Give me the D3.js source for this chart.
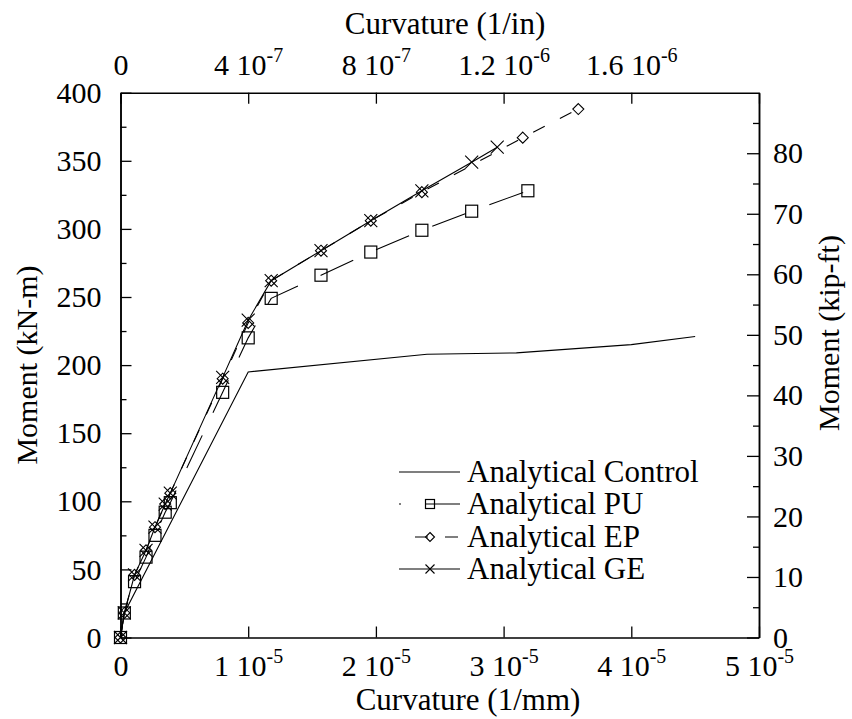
<!DOCTYPE html>
<html>
<head>
  <meta charset="utf-8">
  <title>Moment-Curvature</title>
  <script src="https://d3js.org/d3.v7.min.js"></script>
  <style>
    body { margin: 0; background: #fff; }
    text { font-family: "Liberation Serif", "Times New Roman", serif; fill: #000; }
  </style>
</head>
<body>
<div id="chart"></div>
<script>
  // curvature in 1/mm, moment in kN-m
  const controlK = [0, 0.03e-5, 1.0e-5, 2.4e-5, 3.1e-5, 4.0e-5, 4.5e-5];
  const controlM = [0, 18, 195, 208, 209, 215, 221];

  const puK = [0, 0.03e-5, 0.11e-5, 0.2e-5, 0.27e-5, 0.35e-5, 0.39e-5, 0.8e-5, 1.0e-5, 1.18e-5, 1.57e-5, 1.96e-5, 2.36e-5, 2.75e-5, 3.19e-5];
  const puM = [0, 18, 41, 59, 75, 92, 99, 180, 220, 249, 266, 283, 299, 313, 328];

  const epK = [0, 0.03e-5, 0.11e-5, 0.2e-5, 0.27e-5, 0.35e-5, 0.39e-5, 0.8e-5, 1.0e-5, 1.18e-5, 1.57e-5, 1.96e-5, 2.36e-5, 3.15e-5, 3.585e-5];
  const epM = [0, 18, 46, 64, 81, 98, 106, 190, 231, 262, 284, 306, 327, 367, 388];

  const geK = [0, 0.03e-5, 0.11e-5, 0.2e-5, 0.27e-5, 0.35e-5, 0.39e-5, 0.8e-5, 1.0e-5, 1.18e-5, 1.57e-5, 1.96e-5, 2.36e-5, 2.75e-5, 2.95e-5];
  const geM = [0, 18, 46, 64, 81, 98, 106, 191, 233, 262, 284, 306, 328, 349, 360];

  const seriesNames = ["Analytical Control", "Analytical PU", "Analytical EP", "Analytical GE"];

  // tick values and labels  [mantissa, exponent]
  const bottomTicks = [0, 1e-5, 2e-5, 3e-5, 4e-5, 5e-5];
  const bottomLabels = [["0", ""], ["1 10", "-5"], ["2 10", "-5"], ["3 10", "-5"], ["4 10", "-5"], ["5 10", "-5"]];
  const topTicks = [0, 4e-7, 8e-7, 1.2e-6, 1.6e-6, 2e-6];
  const topLabels = [["0", ""], ["4 10", "-7"], ["8 10", "-7"], ["1.2 10", "-6"], ["1.6 10", "-6"], ["", ""]];
  const leftTicks = [0, 50, 100, 150, 200, 250, 300, 350, 400];
  const leftMinor = [25, 75, 125, 175, 225, 275, 325, 375];
  const rightTicks = [0, 10, 20, 30, 40, 50, 60, 70, 80];
  const rightMinor = [5, 15, 25, 35, 45, 55, 65, 75, 85];

  const width = 852, height = 719;
  const box = { left: 120.5, right: 759, top: 92.7, bottom: 637.5 };

  const svg = d3.select("#chart").append("svg")
    .attr("width", width).attr("height", height);

  const x = d3.scaleLinear().domain([0, 5e-5]).range([box.left, box.right]);
  const xTop = d3.scaleLinear().domain([0, 2e-6]).range([box.left, box.right]);
  const y = d3.scaleLinear().domain([0, 400]).range([box.bottom, box.top]);
  const yRight = d3.scaleLinear().domain([0, 90]).range([box.bottom, box.top]);

  const fs = 30;

  function supLabels(sel, labels) {
    sel.selectAll(".tick text").each(function(d, i) {
      const t = d3.select(this).text(null);
      const lab = labels[i];
      t.append("tspan").text(lab[0]);
      if (lab[1]) t.append("tspan").attr("dy", -13).attr("font-size", 20).text(lab[1]);
    });
  }

  // bottom axis
  const gb = svg.append("g").attr("transform", `translate(0,${box.bottom})`)
    .call(d3.axisBottom(x).tickValues(bottomTicks).tickSizeInner(-11).tickSizeOuter(0).tickPadding(17));
  supLabels(gb, bottomLabels);

  // top axis
  const gt = svg.append("g").attr("transform", `translate(0,${box.top})`)
    .call(d3.axisTop(xTop).tickValues(topTicks).tickSizeInner(-11).tickSizeOuter(0).tickPadding(18));
  supLabels(gt, topLabels);

  // left axis
  svg.append("g").attr("transform", `translate(${box.left},0)`)
    .call(d3.axisLeft(y).tickValues(leftTicks).tickFormat(d3.format("d")).tickSizeInner(-11).tickSizeOuter(0).tickPadding(19));
  svg.append("g").attr("transform", `translate(${box.left},0)`)
    .call(d3.axisLeft(y).tickValues(leftMinor).tickFormat("").tickSizeInner(-6).tickSizeOuter(0));

  // right axis
  svg.append("g").attr("transform", `translate(${box.right},0)`)
    .call(d3.axisRight(yRight).tickValues(rightTicks).tickFormat(d3.format("d")).tickSizeInner(-12).tickSizeOuter(0).tickPadding(14));
  svg.append("g").attr("transform", `translate(${box.right},0)`)
    .call(d3.axisRight(yRight).tickValues(rightMinor).tickFormat("").tickSizeInner(-6).tickSizeOuter(0));

  svg.selectAll(".domain").attr("stroke", "#000").attr("stroke-width", 1.5);
  svg.selectAll(".tick line").attr("stroke", "#000").attr("stroke-width", 1.3);
  svg.selectAll(".tick text").attr("font-size", fs).attr("fill", "#000");

  // axis titles
  svg.append("text").attr("x", 445).attr("y", 34).attr("text-anchor", "middle").attr("font-size", 31).text("Curvature (1/in)");
  svg.append("text").attr("x", 468).attr("y", 710).attr("text-anchor", "middle").attr("font-size", 31).text("Curvature (1/mm)");
  svg.append("text").attr("transform", "translate(37,365) rotate(-90)").attr("text-anchor", "middle").attr("font-size", fs).text("Moment (kN-m)");
  svg.append("text").attr("transform", "translate(839,333) rotate(-90)").attr("text-anchor", "middle").attr("font-size", fs).text("Moment (kip-ft)");

  // marker shapes
  function square(g, s) { g.append("rect").attr("x", -s / 2).attr("y", -s / 2).attr("width", s).attr("height", s).attr("fill", "none").attr("stroke", "#000").attr("stroke-width", 1.2); }
  function diamond(g, s) { const h = s / 2; g.append("path").attr("d", `M0,${-h}L${h},0L0,${h}L${-h},0Z`).attr("fill", "none").attr("stroke", "#000").attr("stroke-width", 1.1); }
  function cross(g, s) { const h = s / 2; g.append("path").attr("d", `M${-h},${-h}L${h},${h}M${-h},${h}L${h},${-h}`).attr("stroke", "#000").attr("stroke-width", 1.1); }

  const series = [
    { k: controlK, m: controlM, dash: null, offset: 0, marker: null, size: 0 },
    { k: puK, m: puM, dash: "36,25", offset: 34, marker: square, size: 12 },
    { k: epK, m: epM, dash: "13,17", offset: 14, marker: diamond, size: 11 },
    { k: geK, m: geM, dash: null, offset: 0, marker: cross, size: 13 }
  ];

  const line = d3.line().x(d => x(d[0])).y(d => y(d[1]));
  const plot = svg.append("g");

  series.forEach(s => {
    const pts = s.k.map((v, i) => [v, s.m[i]]);
    plot.append("path").datum(pts).attr("d", line)
      .attr("fill", "none").attr("stroke", "#000").attr("stroke-width", 1.1)
      .attr("stroke-dasharray", s.dash);
    if (s.marker) {
      pts.forEach(p => {
        const g = plot.append("g").attr("transform", `translate(${x(p[0])},${y(p[1])})`);
        s.marker(g, s.size);
      });
    }
  });

  // legend
  const legend = svg.append("g");
  const legY = [472, 504, 537, 569];
  series.forEach((s, i) => {
    const yy = legY[i];
    legend.append("line").attr("x1", 399).attr("x2", 460).attr("y1", yy).attr("y2", yy)
      .attr("stroke", "#000").attr("stroke-width", 1.1)
      .attr("stroke-dasharray", s.dash)
      .attr("stroke-dashoffset", s.offset);
    if (s.marker) {
      const g = legend.append("g").attr("transform", `translate(430,${yy})`);
      s.marker(g, 9);
    }
    legend.append("text").attr("x", 467).attr("y", yy + 10).attr("font-size", 31).text(seriesNames[i]);
  });
</script>
</body>
</html>
